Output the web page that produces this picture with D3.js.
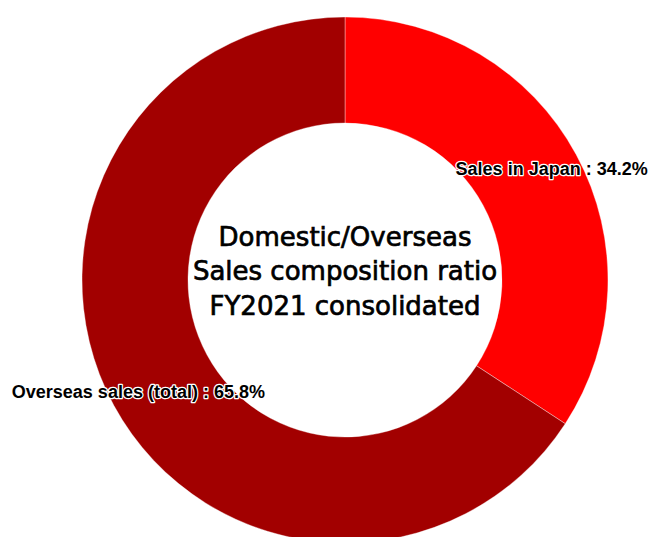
<!DOCTYPE html>
<html><head><meta charset="utf-8">
<script src="https://cdn.jsdelivr.net/npm/d3@7"></script>
<style>body{margin:0;background:#fff;}svg{display:block;}</style>
</head><body>
<svg id="chart" width="651" height="537"></svg>
<script>
const categories = ["Sales in Japan", "Overseas sales (total)"];
const values = [34.2, 65.8];
const colors = ["#FF0000", "#A20000"];
const titleLines = ["Domestic/Overseas", "Sales composition ratio", "FY2021 consolidated"];

const svg = d3.select("#chart");
const cx = 345, cy = 280, outerR = 263, innerR = 157, labelR = 235;
const g = svg.append("g").attr("transform", `translate(${cx},${cy})`);

const data = categories.map((c, i) => ({name: c, value: values[i], color: colors[i]}));
const pie = d3.pie().value(d => d.value).sort(null);
const arcs = pie(data);
const arc = d3.arc().innerRadius(innerR).outerRadius(outerR);
const labelArc = d3.arc().innerRadius(labelR).outerRadius(labelR);

g.selectAll("path.slice").data(arcs).join("path")
  .attr("class", "slice")
  .attr("d", arc)
  .attr("fill", d => d.data.color)
  .attr("stroke", "rgba(255,255,255,0.45)")
  .attr("stroke-width", 0.8);

g.selectAll("text.lbl").data(arcs).join("text")
  .attr("class", "lbl")
  .attr("transform", d => `translate(${labelArc.centroid(d)})`)
  .attr("text-anchor", "middle")
  .attr("y", 6.5)
  .attr("font-family", "'Liberation Sans', Arial, sans-serif")
  .attr("font-weight", "bold")
  .attr("font-size", 18)
  .attr("fill", "#000")
  .attr("stroke", "#fff")
  .attr("stroke-width", 2.5)
  .attr("stroke-linejoin", "round")
  .attr("paint-order", "stroke")
  .text(d => `${d.data.name} : ${d.data.value.toFixed(1)}%`);

const title = g.append("text")
  .attr("text-anchor", "middle")
  .attr("font-family", "'DejaVu Sans', sans-serif")
  .attr("font-size", 26)
  .attr("fill", "#000")
  .attr("stroke", "#000")
  .attr("stroke-width", 0.7);
title.selectAll("tspan").data(titleLines).join("tspan")
  .attr("x", 0)
  .attr("y", (d, i) => (i - 1) * 34.5)
  .text(d => d);
</script>
</body></html>
